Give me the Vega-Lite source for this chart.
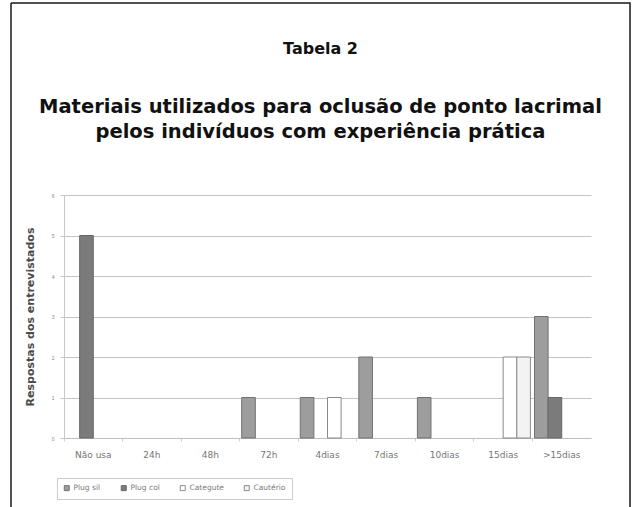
{
  "$schema": "https://vega.github.io/schema/vega-lite/v6.json",
  "autosize": {"type": "none"},
  "width": 619,
  "height": 504,
  "padding": {"left": 11, "top": 3, "right": 4, "bottom": 0},
  "background": "white",
  "config": {
    "font": "Liberation Sans",
    "view": {"stroke": "#1a1a1a", "strokeWidth": 1.5, "strokeDash": [1123, 619, 504, 0]}
  },
  "title": {
    "text": "Tabela 2",
    "subtitle": ["Materiais utilizados para oclusão de ponto lacrimal", "pelos indivíduos com experiência prática"],
    "anchor": "middle",
    "frame": "group",
    "offset": -138,
    "font": "DejaVu Sans",
    "fontSize": 16,
    "fontWeight": "bold",
    "color": "#111",
    "subtitleFont": "DejaVu Sans",
    "subtitleFontSize": 19.5,
    "subtitleFontWeight": "bold",
    "subtitleColor": "#111",
    "subtitleLineHeight": 25,
    "subtitlePadding": 41
  },
  "data": {
    "values": [
      {"periodo": "Não usa", "material": "Plug col", "respostas": 5},
      {"periodo": "72h", "material": "Plug sil", "respostas": 1},
      {"periodo": "4dias", "material": "Plug sil", "respostas": 1},
      {"periodo": "4dias", "material": "Categute", "respostas": 1},
      {"periodo": "7dias", "material": "Plug sil", "respostas": 2},
      {"periodo": "10dias", "material": "Plug sil", "respostas": 1},
      {"periodo": "15dias", "material": "Categute", "respostas": 2},
      {"periodo": "15dias", "material": "Cautério", "respostas": 2},
      {"periodo": ">15dias", "material": "Plug sil", "respostas": 3},
      {"periodo": ">15dias", "material": "Plug col", "respostas": 1}
    ]
  },
  "mark": {"type": "bar", "strokeWidth": 1},
  "encoding": {
    "x": {
      "field": "periodo",
      "type": "nominal",
      "scale": {
        "domain": ["Não usa", "24h", "48h", "72h", "4dias", "7dias", "10dias", "15dias", ">15dias"],
        "range": [53, 580],
        "paddingInner": 0,
        "paddingOuter": 0
      },
      "axis": {
        "title": null,
        "orient": "bottom",
        "offset": -69,
        "labelAngle": 0,
        "labelFont": "DejaVu Sans",
        "labelFontSize": 9,
        "labelColor": "#757575",
        "labelPadding": 9,
        "domainColor": "#bdbdbd",
        "ticks": true,
        "bandPosition": 0,
        "tickSize": 3,
        "tickColor": "#cfcfcf",
        "grid": false
      }
    },
    "xOffset": {
      "field": "material",
      "type": "nominal",
      "scale": {
        "domain": ["Plug sil", "Plug col", "Categute", "Cautério"],
        "paddingInner": 0,
        "paddingOuter": 0.15
      }
    },
    "y": {
      "field": "respostas",
      "type": "quantitative",
      "scale": {"domain": [0, 6], "range": [435, 192], "nice": false},
      "axis": {
        "title": "Respostas dos entrevistados",
        "titleFont": "DejaVu Sans",
        "titleFontSize": 11,
        "titleFontWeight": "bold",
        "titleColor": "#4a4a4a",
        "titlePadding": 16,
        "offset": -53,
        "values": [0, 1, 2, 3, 4, 5, 6],
        "labelFontSize": 5,
        "labelColor": "#8a8a8a",
        "labelPadding": 6,
        "tickSize": 4,
        "tickColor": "#c8c8c8",
        "domainColor": "#c8c8c8",
        "gridColor": "#c4c4c4",
        "gridWidth": 1.2
      }
    },
    "fill": {
      "field": "material",
      "type": "nominal",
      "scale": {
        "domain": ["Plug sil", "Plug col", "Categute", "Cautério"],
        "range": ["#9d9d9d", "#7b7b7b", "#ffffff", "#f3f3f3"]
      },
      "legend": {
        "title": null,
        "orient": "none",
        "legendX": 46,
        "legendY": 475,
        "direction": "horizontal",
        "columns": 4,
        "columnPadding": 18,
        "symbolType": "square",
        "symbolSize": 25,
        "symbolStrokeWidth": 1,
        "labelFont": "DejaVu Sans",
        "labelFontSize": 7.5,
        "labelColor": "#7a7a7a",
        "labelOffset": 3,
        "strokeColor": "#cccccc",
        "padding": 6
      }
    },
    "stroke": {
      "field": "material",
      "type": "nominal",
      "scale": {
        "domain": ["Plug sil", "Plug col", "Categute", "Cautério"],
        "range": ["#727272", "#666666", "#8a8a8a", "#8a8a8a"]
      },
      "legend": null
    }
  }
}
